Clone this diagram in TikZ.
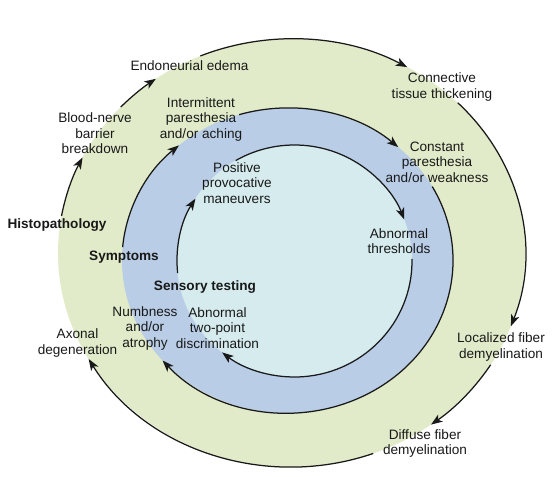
\documentclass[tikz,border=0pt]{standalone}
\usepackage{fontspec}
\setmainfont{Liberation Sans}
\usetikzlibrary{arrows.meta}
\definecolor{ringgreen}{RGB}{225,235,201}
\definecolor{ringblue}{RGB}{185,205,230}
\definecolor{ringcyan}{RGB}{213,235,238}
\begin{document}
\begin{tikzpicture}[x=1pt,y=1pt,
  lbl/.style={align=center,inner sep=0pt,font=\fontsize{13.6}{15.5}\selectfont,text=black!90},
  hdr/.style={inner sep=0pt,font=\fontsize{13.6}{15.5}\selectfont\bfseries,text=black!90},
  cyc/.style={line width=1.25pt,draw=black!90,-{Stealth[length=11.5pt,width=8.5pt,inset=3pt]}},
  outerR/.style={x radius=233.5pt,y radius=214pt},
  midR/.style={x radius=165.5pt,y radius=152.5pt},
  innerR/.style={x radius=117.5pt,y radius=116pt}]
\useasboundingbox (0,0) rectangle (559,482);
\coordinate (O1) at (291.5,229);
\coordinate (O2) at (287.5,221.5);
\coordinate (O3) at (294.5,221);
% filled rings
\fill[ringgreen] (O1) ellipse [outerR];
\fill[ringblue] (O2) ellipse [midR];
\fill[ringcyan] (O3) ellipse [innerR];
% outer cycle arcs
\draw[cyc] (O1) ++(170:233.5pt and 214pt) arc[outerR,start angle=170,end angle=153.5];
\draw[cyc] (O1) ++(137:233.5pt and 214pt) arc[outerR,start angle=137,end angle=125.5];
\draw[cyc] (O1) ++(113:233.5pt and 214pt) arc[outerR,start angle=113,end angle=60.3];
\draw[cyc] (O1) ++(44.6:233.5pt and 214pt) arc[outerR,start angle=44.6,end angle=-20];
\draw[cyc] (O1) ++(-31.5:233.5pt and 214pt) arc[outerR,start angle=-31.5,end angle=-53.3];
\draw[cyc] (O1) ++(-69.5:233.5pt and 214pt) arc[outerR,start angle=-69.5,end angle=-150.3];
% middle cycle arcs
\draw[cyc] (O2) ++(175:165.5pt and 152.5pt) arc[midR,start angle=175,end angle=131];
\draw[cyc] (O2) ++(107:165.5pt and 152.5pt) arc[midR,start angle=107,end angle=48];
\draw[cyc] (O2) ++(29:165.5pt and 152.5pt) arc[midR,start angle=29,end angle=-139];
% inner cycle arcs
\draw[cyc] (O3) ++(186:117.5pt and 116pt) arc[innerR,start angle=186,end angle=147.5];
\draw[cyc] (O3) ++(120:117.5pt and 116pt) arc[innerR,start angle=120,end angle=21];
\draw[cyc] (O3) ++(1:117.5pt and 116pt) arc[innerR,start angle=1,end angle=-128];
% headings
\node[hdr] (histo) at (57,257) {Histopathology};
\node[hdr] (sympt) at (124,225) {Symptoms};
\node[hdr] (senso) at (205,195) {Sensory testing};
% outer labels
\node[lbl] (edema) at (189.5,416) {Endoneurial edema};
\node[lbl] (bnb) at (95,348.5) {Blood-nerve\\barrier\\breakdown};
\node[lbl] (conn) at (442,395) {Connective\\tissue thickening};
\node[lbl] (local) at (501,135) {Localized fiber\\demyelination};
\node[lbl] (diff) at (425,38.5) {Diffuse fiber\\demyelination};
\node[lbl] (axon) at (77.5,139) {Axonal\\degeneration};
% middle labels
\node[lbl] (inter) at (201,363) {Intermittent\\paresthesia\\and/or aching};
\node[lbl] (const) at (437,320) {Constant\\paresthesia\\and/or weakness};
\node[lbl] (numb) at (145,154) {Numbness\\and/or\\atrophy};
% inner labels
\node[lbl] (pos) at (237,299) {Positive\\provocative\\maneuvers};
\node[lbl] (thr) at (399,241) {Abnormal\\thresholds};
\node[lbl] (twop) at (217.5,154) {Abnormal\\two-point\\discrimination};
\end{tikzpicture}
\end{document}
